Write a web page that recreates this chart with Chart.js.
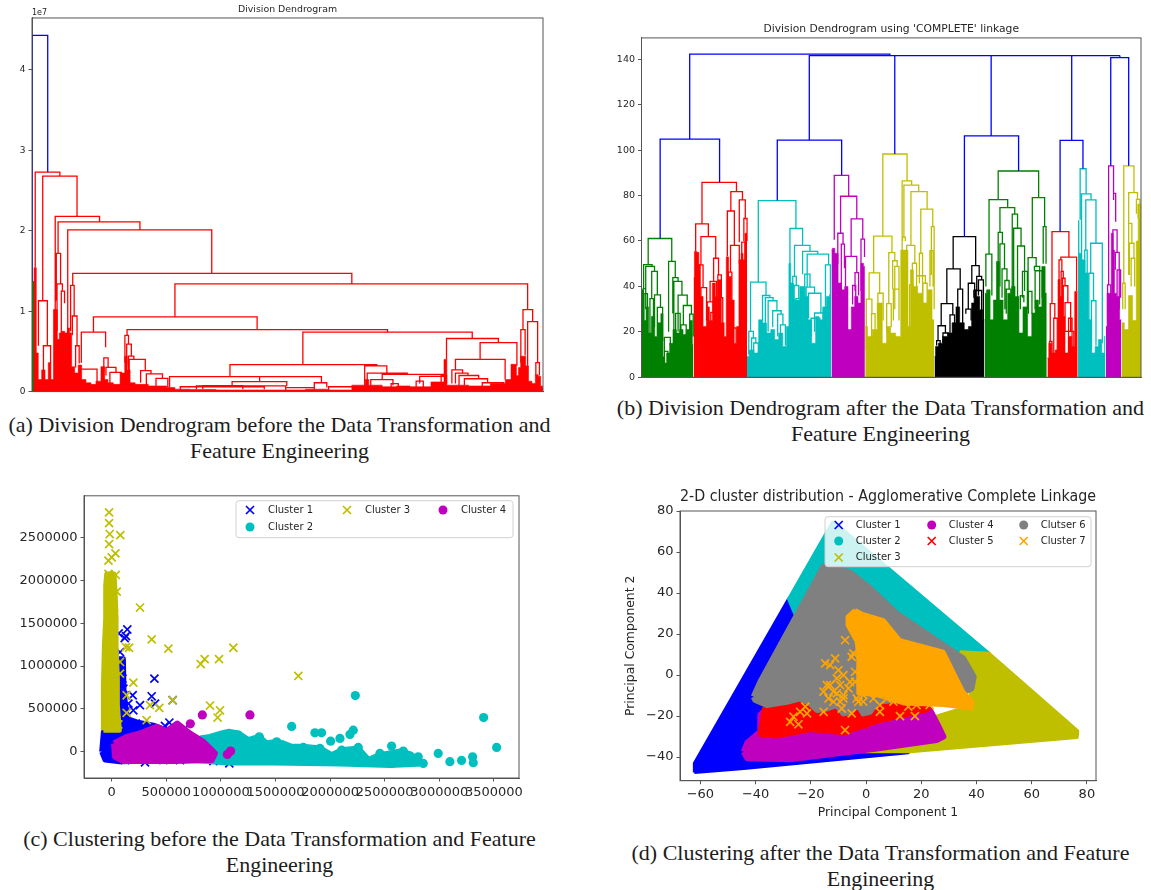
<!DOCTYPE html>
<html>
<head>
<meta charset="utf-8">
<title>Clustering figures</title>
<script src="https://cdn.jsdelivr.net/npm/chart.js@4/dist/chart.umd.min.js"></script>
<style>
  html, body { margin: 0; padding: 0; background: #fff; width: 1151px; height: 890px; overflow: hidden; }
  canvas { position: absolute; filter: blur(0.45px); }
  .cap { position: absolute; width: 575px; text-align: center; color: #1c1c1c;
         font-family: "Liberation Serif", serif; font-size: 22px; line-height: 26px; white-space: nowrap; }
</style>
</head>
<body>
<canvas id="dendroA" style="left:0;top:0"></canvas>
<canvas id="dendroB" style="left:606px;top:20px"></canvas>
<canvas id="scatterC" style="left:15px;top:485px"></canvas>
<canvas id="scatterD" style="left:622px;top:486px"></canvas>
<div class="cap" style="left:-8px;top:412px">(a) Division Dendrogram before the Data Transformation and<br>Feature Engineering</div>
<div class="cap" style="left:593px;top:395px">(b) Division Dendrogram after the Data Transformation and<br>Feature Engineering</div>
<div class="cap" style="left:-8px;top:826px">(c) Clustering before the Data Transformation and Feature<br>Engineering</div>
<div class="cap" style="left:593px;top:840px">(d) Clustering after the Data Transformation and Feature<br>Engineering</div>

<script>
// ─── DATA ─────────────────────────────────────────
// Dendrogram links are [xLeft, xRight, yLeft, yRight, top].
// Skylines are [x, y] tops of the dense leaf area under each cluster.

const aTicks = [0, 1, 2, 3, 4];
const aBlueLinks = [[90, 134, 1.37, 2.73, 4.43]];
const aGreenSkyline = [[90, 1.37], [95, 1.37], [96, 0.5]];
const aRedLinks = [
  [99, 168, 1.54, 2.68, 2.73], [120, 216, 1.13, 2.18, 2.68], [155, 279, 0.69, 2.11, 2.18],
  [163, 392, 1.72, 2.01, 2.11], [190, 593, 0.73, 1.47, 2.01], [204, 985, 1.32, 1.34, 1.47],
  [490, 1477, 0.93, 1.02, 1.34], [262, 720, 0.74, 0.77, 0.93], [228, 296, 0.36, 0.55, 0.74],
  [356, 1085, 0.70, 0.74, 0.77], [848, 1322, 0.335, 0.66, 0.74], [1250, 1395, 0.40, 0.61, 0.66],
  [1344, 1447, 0.40, 0.32, 0.61], [1275, 1414, 0.27, 0.15, 0.40], [644, 1055, 0.186, 0.32, 0.335],
  [1021, 1083, 0.05, 0.23, 0.32], [1028, 1140, 0.11, 0.215, 0.23], [1070, 1245, 0.15, 0.17, 0.215],
  [475, 900, 0.05, 0.11, 0.186], [650, 803, 0.05, 0.07, 0.124], [727, 727, 0.124, 0.124, 0.186],
  [1464, 1491, 0.77, 0.87, 1.02], [1477, 1505, 0.32, 0.36, 0.87], [1458, 1470, 0.36, 0.45, 0.77],
  [1500, 1510, 0.2, 0.2, 0.36], [350, 360, 0.36, 0.59, 0.70], [355, 368, 0.32, 0.44, 0.59],
  [360, 375, 0.2, 0.40, 0.44], [362, 407, 0.11, 0.26, 0.40], [394, 423, 0.11, 0.22, 0.26],
  [410, 455, 0.08, 0.165, 0.22], [437, 470, 0.05, 0.05, 0.165], [108, 133, 0.57, 0.57, 1.13],
  [122, 142, 0.25, 0.35, 0.57], [158, 170, 1.13, 1.34, 1.72], [160, 175, 0.75, 1.25, 1.34],
  [172, 181, 0.6, 1.10, 1.25], [198, 208, 0.75, 0.94, 1.32], [203, 216, 0.7, 0.57, 0.94],
  [212, 222, 0.3, 0.35, 0.57], [291, 303, 0.25, 0.3, 0.42], [297, 325, 0.2, 0.24, 0.30],
  [308, 340, 0.1, 0.1, 0.24], [222, 272, 0.1, 0.1, 0.28], [1265, 1295, 0.1, 0.23, 0.27],
  [1275, 1310, 0.1, 0.2, 0.23], [1285, 1340, 0.08, 0.16, 0.2], [1300, 1365, 0.08, 0.11, 0.16],
  [1350, 1410, 0.06, 0.08, 0.11], [1175, 1245, 0.1, 0.08, 0.19], [1165, 1185, 0.04, 0.05, 0.13],
  [1038, 1100, 0.06, 0.08, 0.15], [1095, 1115, 0.03, 0.04, 0.1], [550, 800, 0.03, 0.03, 0.07],
  [505, 740, 0.02, 0.03, 0.06], [568, 680, 0.03, 0.03, 0.075], [880, 915, 0.05, 0.05, 0.11],
  [800, 880, 0.02, 0.03, 0.05], [920, 1005, 0.02, 0.02, 0.06], [1235, 1250, 0.06, 0.1, 0.2],
];
const aRedSkyline = [
  [94, 0.52], [97.5, 1.54], [101, 1.54], [103, 0.48], [112, 0.15], [122, 0.27], [131, 0.15], [140, 0.36],
  [146, 0.15], [154, 1.02], [159, 1.02], [163, 0.65], [170, 0.73], [178, 0.75], [185, 0.73], [193, 0.79],
  [198, 0.73], [204, 0.31], [215, 0.23], [224, 0.33], [234, 0.15], [248, 0.11], [262, 0.09], [276, 0.13],
  [290, 0.31], [297, 0.15], [308, 0.11], [327, 0.09], [346, 0.23], [353, 0.44], [360, 0.27], [369, 0.11],
  [388, 0.09], [406, 0.09], [425, 0.07], [458, 0.07], [476, 0.05], [504, 0.03], [560, 0.025], [650, 0.02],
  [800, 0.02], [820, 0.02], [890, 0.03], [950, 0.02], [1020, 0.08], [1025, 0.15], [1040, 0.08], [1100, 0.06],
  [1120, 0.07], [1176, 0.06], [1237, 0.12], [1249, 0.40], [1253, 0.08], [1288, 0.08], [1335, 0.07], [1410, 0.1],
  [1419, 0.15], [1442, 0.34], [1449, 0.2], [1454, 0.3], [1461, 0.44], [1468, 0.44], [1475, 0.32], [1484, 0.13],
  [1494, 0.1], [1503, 0.21], [1510, 0.19], [1517, 0.07], [1520, 0.05],
];

const bTicks = [0, 20, 40, 60, 80, 100, 120, 140];
const bBlueLinks = [
  [255, 824, 104.8, 141.6, 142.3], [595, 1478, 104.4, 141.6, 141.6], [838, 838, 98.3, 98.3, 141.6],
  [1112, 1112, 106.3, 106.3, 141.6], [1341, 1341, 104.3, 104.3, 141.6], [1478, 1478, 141.6, 141.6, 140.9],
  [1452, 1503, 93.1, 93.1, 140.7], [171, 340, 61.1, 85.8, 104.8], [504, 687, 77.8, 88.9, 104.4],
  [1036, 1190, 61.9, 90.8, 106.3], [1308, 1373, 64.1, 91.8, 104.3],
];
const bGreenLinks = [
  [137, 204, 49.5, 51, 61.1], [124, 148, 39, 48.8, 49.6], [130, 155, 30, 46.6, 48.8], [147, 163, 34.6, 36.3, 46.6],
  [123, 130, 25, 36.8, 39], [125, 135, 22, 20, 36.8], [142, 152, 18, 14, 34.6], [155, 172, 22, 30.8, 36.3],
  [163, 178, 18, 16, 30.8], [195, 214, 20, 43.9, 51], [207, 222, 28.1, 42.2, 43.9], [210, 233, 20, 36.2, 42.2],
  [222, 248, 20, 31.6, 36.2], [237, 260, 23.1, 27.8, 31.6], [215, 228, 14, 18, 28.1], [255, 265, 16, 18, 27.8],
  [230, 245, 14, 16, 23.1], [183, 200, 11.4, 14, 17.6], [183, 193, 4, 8, 11.4],
  [1132, 1247, 78.2, 79.1, 90.8], [1106, 1159, 54.2, 74.7, 78.2], [1137, 1179, 63.8, 71.8, 74.7],
  [1172, 1187, 30, 65.6, 71.8], [1176, 1197, 35, 57.8, 65.6], [1187, 1207, 30, 38, 57.8], [1132, 1144, 40, 58.7, 63.8],
  [1137, 1150, 40, 47.7, 58.7], [1097, 1114, 40, 36, 54.2], [1143, 1157, 35, 42.6, 47.7], [1151, 1163, 30, 38.8, 42.6],
  [1155, 1168, 28, 30, 38.8], [1229, 1264, 52.7, 66.3, 79.1], [1217, 1240, 30, 48.8, 52.7], [1235, 1250, 46.9, 32, 48.8],
  [1237, 1257, 30, 35, 46.9], [1260, 1268, 50, 50, 66.3], [1201, 1215, 35, 30, 46.6], [1195, 1205, 30, 33, 35.9],
  [1218, 1228, 28, 28, 37.8],
];
const bRedLinks = [
  [290, 388, 67.5, 81.7, 85.8], [272, 308, 55.4, 61.9, 67.5], [287, 329, 49.5, 52.4, 61.9], [277, 293, 30, 39.5, 49.5],
  [323, 337, 42.2, 45.1, 52.4], [287, 303, 25, 25, 39.5], [313, 331, 33.2, 35.1, 42.2], [305, 322, 25, 28.6, 33.2],
  [315, 327, 20, 20, 28.6], [335, 345, 30, 35.1, 45.1], [340, 349, 20, 20, 35.1], [372, 405, 73.2, 78.1, 81.7],
  [362, 382, 53.2, 58.1, 73.2], [371, 396, 46.3, 50, 58.1], [396, 413, 59.5, 69.9, 78.1], [409, 418, 60, 60, 69.9],
  [403, 412, 50, 50, 59.5], [365, 375, 40, 21.7, 46.3], [375, 387, 15, 15, 21.7],
  [1285, 1333, 32.4, 52.9, 64.1], [1310, 1355, 51.7, 38, 52.9], [1305, 1313, 12, 46.6, 51.7], [1311, 1317, 12, 43.6, 46.6],
  [1315, 1322, 12, 40.3, 43.6], [1317, 1330, 12, 32.9, 40.3], [1322, 1338, 20.2, 20.2, 32.9], [1290, 1300, 10, 12, 26],
  [1280, 1293, 15.8, 26, 32.4], [1320, 1347, 10, 12, 20.2], [1332, 1342, 10, 10, 26], [1278, 1285, 8, 8, 15.8],
];
const bCyanLinks = [
  [450, 557, 41.9, 65.5, 77.8], [428, 472, 20.2, 36, 41.9], [462, 483, 25, 35.1, 36], [470, 492, 20, 33.7, 35.1],
  [478, 503, 20, 29.3, 33.7], [491, 515, 22, 27.8, 29.3], [505, 520, 18, 23.1, 27.8], [513, 527, 14, 14, 23.1],
  [423, 436, 10, 17.3, 20.2], [431, 443, 10, 15.1, 17.3], [437, 450, 10, 10, 15.1], [540, 576, 50.2, 58.1, 65.5],
  [553, 597, 44.4, 55.5, 58.1], [576, 619, 45.4, 54.2, 55.4], [589, 650, 39.7, 49.5, 54.2], [582, 597, 30, 39.7, 45.4],
  [586, 610, 28, 37, 39.7], [593, 628, 26, 28.3, 37], [641, 655, 28, 36, 49.5], [548, 558, 30, 40.4, 44.4],
  [552, 565, 30, 34.6, 40.4], [557, 570, 28, 25, 34.6], [600, 625, 18, 20, 26], [610, 635, 20, 22, 28.3],
  [1365, 1382, 69.3, 80.7, 91.8], [1369, 1396, 45, 78.1, 80.7], [1381, 1410, 56, 59, 78.1], [1395, 1428, 45.8, 15, 59],
  [1390, 1403, 25, 33.7, 45.8], [1397, 1410, 12, 14, 33.7], [1378, 1385, 40, 45, 56],
];
const bMagentaLinks = [
  [666, 707, 60.5, 79.7, 88.9], [684, 730, 63.4, 69.7, 79.7], [676, 691, 50, 58.6, 63.4], [714, 747, 53.2, 60.8, 69.7],
  [698, 730, 40, 46.1, 53.2], [725, 735, 38, 36, 46.1], [742, 752, 38, 53, 60.8], [718, 727, 32, 32, 40.4],
  [686, 695, 34, 48, 58.6],
  [1446, 1460, 40.7, 81, 93.1], [1460, 1466, 78, 68.5, 81], [1458, 1470, 45, 55, 64.9], [1465, 1476, 47.3, 30, 55],
  [1470, 1480, 35, 35, 47.3], [1443, 1452, 25, 30, 40.7],
];
const bYellowLinks = [
  [804, 873, 62.1, 86.5, 98.3], [778, 830, 46, 54.9, 62.1], [765, 795, 34.4, 37, 46], [757, 773, 12, 28, 34.4],
  [790, 805, 25, 25, 37], [772, 782, 14, 16, 28], [821, 838, 32.4, 51.3, 54.9], [832, 845, 38.8, 48.8, 51.3],
  [838, 850, 30, 30, 48.8], [834, 850, 25, 25, 38.8], [815, 828, 20, 22, 32.4], [859, 886, 55, 84.6, 86.5],
  [864, 906, 61.7, 81.7, 84.6], [884, 930, 58.1, 74, 81.7], [912, 946, 54.6, 66.3, 74], [860, 868, 60, 60, 61.7],
  [872, 895, 28, 50.2, 58.1], [888, 900, 30, 44.7, 50.2], [908, 917, 41.4, 30, 54.6], [900, 925, 30, 41.4, 44.7],
  [938, 947, 40, 40, 55.8], [942, 950, 45, 30, 66.3], [880, 890, 22, 30, 40.7], [918, 930, 30, 30, 41.4],
  [1489, 1518, 41.4, 81.3, 93.1], [1503, 1528, 59, 78.3, 81.3], [1503, 1512, 45, 59, 67.8], [1505, 1518, 45, 52.4, 59],
  [1525, 1535, 72, 76.1, 78.3], [1530, 1537, 70, 40, 76.1], [1510, 1520, 40, 40, 52.4], [1486, 1493, 30, 30, 41.4],
];
const bBlackLinks = [
  [1004, 1068, 47.7, 49.2, 61.9], [986, 1024, 32.4, 38.8, 47.7], [970, 1003, 22.7, 27.5, 32.4], [1017, 1031, 26, 22, 38.8],
  [961, 982, 16.1, 19.5, 22.7], [995, 1008, 17, 17, 27.5], [975, 990, 15, 14, 19.5], [957, 967, 14, 12, 16.1],
  [1057, 1078, 41.4, 44.4, 49.2], [1047, 1065, 30, 38.2, 41.4], [1071, 1085, 38, 42.9, 44.4], [1076, 1090, 36, 25, 42.9],
  [1040, 1055, 28, 25, 30], [1063, 1085, 35, 25, 38.2],
];
const bGreenSkyline1 = [[119, 38.5], [127, 25], [135, 31], [141, 19.5], [151, 26.8], [160, 18], [170, 24], [176, 28], [182, 9], [186, 6.3], [193, 10.7], [203, 15], [212, 21], [222, 19.5], [231, 21], [241, 18.8], [250, 21], [260, 25], [265, 14.4]];
const bRedSkyline1 = [[266, 43.7], [271, 55.4], [279, 55], [283, 49.5], [288, 35.6], [298, 22.4], [307, 31], [315, 25], [324, 41.5], [331, 35.6], [340, 42.9], [350, 24], [356, 18], [362, 53], [369, 44.4], [378, 34], [385, 15], [392, 22.4], [398, 51.7], [404, 54.6], [409, 51.7], [415, 63.4], [418, 63.4]];
const bCyanSkyline1 = [[418, 9.2], [430, 12], [445, 10.7], [457, 25.3], [468, 23.9], [480, 19.5], [491, 21], [502, 16.6], [514, 19.5], [525, 13.6], [535, 22.4], [539, 50.2], [546, 41.5], [554, 34], [563, 34], [573, 40], [587, 35.6], [596, 25.3], [608, 15], [618, 26.8], [627, 25.3], [639, 31], [648, 35.6], [657, 36.3]];
const bMagentaSkyline1 = [[658, 56], [663, 56.8], [672, 54.6], [682, 41.5], [691, 38.5], [700, 40], [710, 21], [719, 31], [729, 35.6], [738, 32.7], [745, 50.2], [753, 48.8]];
const bYellowSkyline1 = [[754, 22.4], [767, 18], [781, 21], [795, 32.7], [810, 15], [819, 22.4], [833, 19.5], [848, 18], [862, 56], [872, 56], [879, 22.4], [886, 47.3], [896, 40], [910, 37], [924, 32.7], [938, 38.5], [950, 25.3]];
const bBlackSkyline = [[951, 9.2], [957, 13.6], [967, 15], [981, 18], [995, 19.5], [1007, 24], [1017, 31], [1028, 24], [1043, 21], [1052, 22.4], [1061, 32.7], [1066, 38.5], [1076, 35.6], [1083, 29.7], [1093, 25.3]];
const bGreenSkyline2 = [[1094, 37], [1104, 38.5], [1114, 25.3], [1123, 34], [1131, 51], [1140, 34], [1152, 25.3], [1166, 37], [1175, 40], [1185, 35.6], [1197, 19.5], [1208, 31], [1223, 18], [1232, 28.3], [1242, 34], [1251, 31], [1261, 48.8], [1270, 37]];
const bRedSkyline2 = [[1272, 8.5], [1280, 15], [1289, 10.7], [1299, 12], [1305, 43], [1311, 35.6], [1317, 26.8], [1327, 10.7], [1336, 18], [1346, 13.6], [1353, 37.8], [1358, 37.8]];
const bCyanSkyline2 = [[1359, 69], [1365, 54.6], [1374, 51.7], [1384, 45.9], [1393, 25.3], [1403, 10.7], [1412, 13.6], [1422, 16.6], [1431, 10.7], [1437, 18]];
const bMagentaSkyline2 = [[1438, 22.4], [1445, 37], [1450, 37], [1457, 63.4], [1461, 56], [1464, 37], [1472, 35.6], [1482, 25.3]];
const bYellowSkyline2 = [[1483, 24], [1498, 21], [1507, 36], [1521, 25], [1528, 60], [1532, 76], [1537, 70], [1538, 43]];

const cXTicks = [0, 500000, 1000000, 1500000, 2000000, 2500000, 3000000, 3500000];
const cYTicks = [0, 500000, 1000000, 1500000, 2000000, 2500000];
const cLabels = ['Cluster 1', 'Cluster 2', 'Cluster 3', 'Cluster 4'];
// values in thousands; the dense middle of each cluster is an outline, the strays are points
const cBlueOutline = [[-92, 0], [-76, 233], [52, 233], [52, 775], [70, 1085], [107, 1085], [113, 698], [143, 388], [229, 349], [381, 310], [503, 252], [687, 233], [809, 116], [870, -97], [76, -116], [-61, -97]];
const cCyanOutline = [[809, 155], [900, 174], [1007, 213], [1068, 233], [1160, 213], [1251, 136], [1349, 174], [1419, 97], [1511, 116], [1572, 97], [1648, 58], [1755, 58], [1907, 39], [2014, -39], [2106, 19], [2258, 39], [2350, -97], [2456, -39], [2670, 8], [2762, -58], [2853, -136], [2548, -155], [2090, -136], [1480, -124], [1053, -124], [778, -97]];
const cYellowOutline = [[-76, 252], [-76, 775], [-67, 1240], [-55, 1550], [-55, 1938], [-46, 2074], [21, 2074], [31, 1868], [40, 1550], [40, 1240], [52, 853], [52, 543], [70, 252]];
const cMagentaOutline = [[21, 97], [137, 174], [259, 213], [412, 291], [503, 240], [601, 329], [717, 213], [839, 116], [946, -19], [915, -97], [565, -109], [107, -109], [31, -58]];
const cBluePoints = [[143, 1426], [64, 1380], [131, 1349], [119, 1326], [76, 1163], [76, 988], [391, 853], [366, 647], [192, 659], [558, 601], [259, 543], [198, 484], [397, 562], [153, 562], [107, 736], [98, 853], [122, 465], [528, 341], [488, 302], [220, 329], [305, -124], [1077, -136], [931, -109], [671, 271], [122, -97], [626, -97], [473, -97]];
const cCyanPoints = [[2231, 655], [3406, 399], [3525, 50], [1648, 295], [1861, 221], [1922, 221], [2005, 124], [2090, 155], [2182, 202], [2212, 252], [2258, 50], [2456, -19], [2563, 66], [2670, 8], [2990, -19], [3097, -116], [3204, -101], [3305, -58], [3311, -128], [2853, -136], [2807, -58], [2731, -47], [2609, -97], [1352, 174], [1160, 194], [1068, 202], [1511, 116], [1755, 50], [1907, 39], [2106, 19], [2350, -116], [2563, -136]];
const cYellowPoints = [[-24, 2791], [-24, 2667], [-18, 2539], [79, 2527], [-24, 2422], [34, 2314], [-30, 2229], [0, 2267], [-30, 2074], [37, 2062], [46, 1868], [259, 1682], [21, 1609], [366, 1310], [519, 1202], [1114, 1213], [851, 1081], [815, 1023], [983, 1081], [1709, 884], [131, 1221], [159, 1213], [198, 806], [137, 659], [558, 601], [900, 539], [992, 484], [970, 399], [436, 512], [351, 543], [320, 368], [137, 453], [61, 318], [76, 911], [76, 1047]];
const cMagentaPoints = [[1266, 430], [830, 430], [720, 326], [1089, 8], [1059, -31]];

const dXTicks = [-60, -40, -20, 0, 20, 40, 60, 80];
const dYTicks = [-40, -20, 0, 20, 40, 60, 80];
const dLabels = ['Cluster 1', 'Cluster 2', 'Cluster 3', 'Cluster 4', 'Cluster 5', 'Clutser 6', 'Cluster 7'];
const dBlueOutline = [[-62.2, -47.5], [-62.2, -43], [-28.1, 37.1], [-25.4, 28.5], [-36, -11.4], [-36, -30], [-40, -38], [15.9, -36.6], [15.3, -37.9], [-44.3, -45.5]];
const dCyanOutline = [[-12, 75], [-28.1, 37.1], [-25.4, 28.5], [0, 20], [34, 11.4], [44.6, 10.6]];
const dYellowOutline = [[34, 11.4], [44.6, 10.6], [76.7, -27.2], [76.5, -30.4], [15.9, -37.4], [-8.2, -37.4], [23, -21], [38.8, -14.6]];
const dMagentaOutline = [[-44.3, -37.4], [-43, -33], [-38.3, -27.6], [-38.3, -19.5], [-34.7, -14.6], [-29.9, -20], [-20, -26], [3.9, -22.8], [23, -16.6], [26, -24.4], [28, -30], [25.5, -31.7], [3.9, -35.8], [-27.5, -41], [-43, -40.6]];
const dRedOutline = [[-38.6, -29.3], [-37, -16.3], [-29.9, -13.8], [-15.4, -11.4], [15.9, -13], [21.9, -13.8], [22.5, -17], [3.9, -22.8], [-8.2, -28.4], [-20.2, -26.8], [-32.3, -30]];
const dGrayOutline = [[-40.7, -10.6], [-38.3, -3.3], [-32.3, 11.4], [-25, 29.3], [-15.4, 52.8], [-5.8, 50], [1.4, 42.3], [11, 30], [28, 14.6], [35.2, 8.1], [39, -0.8], [38.2, -6.5], [34, -9], [3.9, -13], [1.4, -17.9], [-1, -18.7], [-2.8, -14.6], [-5.8, -17.9], [-8.2, -18.7], [-10.6, -14.6], [-14.2, -16.3], [-17.8, -17], [-20.2, -13.8], [-23.9, -11.4], [-28.7, -13], [-32.3, -13.8], [-35.9, -14.6], [-40.1, -12.2]];
const dOrangeOutline = [[-4, 31.7], [-1.6, 30], [6.3, 26.8], [12.3, 17], [28, 11.4], [32.8, -1.6], [35.2, -8.1], [38.6, -13], [38.2, -16.3], [28, -14.6], [13.5, -13.8], [3.9, -9.8], [-2.8, -8.9], [-2.8, 9.8], [-3.4, 16.3], [-6.7, 24.4], [-6.7, 28.4]];
const dRedPoints = [[-17.2, -3.3], [-8.2, -27.3], [-1, -24.4], [18.9, -13.8]];
const dGrayPoints = [[-4.6, -13], [0.2, -15.4], [-5.8, -16.3], [-17.8, -14.6]];
const dOrangePoints = [[-7.6, 17], [-5.2, 8.9], [-4.6, 10.6], [-4, 1.6], [-14.8, 5.7], [-11.2, 8.1], [-13, 4.9], [-10, 2.4], [-10.6, -1.6], [-8.2, 0], [-15.4, -8.1], [-13.6, -11.4], [-15.4, -17.9], [-8.8, -16.3], [-5.2, -18.7], [-27.5, -22.8], [-26.3, -20.3], [-24.5, -24], [-23.9, -17.9], [-21.4, -18.7], [-22, -15.4], [-7.6, -26.8], [5, -17.9], [12.3, -20], [15.3, -15.4], [17.7, -20], [18.3, -14.6], [23, -14.6], [-3.4, -11.4], [-8.2, -9.8], [-1, -9.8], [-10.6, -8.9], [6.9, -8.1], [2, -7.3], [-14.2, -4.9], [-11.8, -8.1], [-9.4, -4.9], [-6.4, -6.5], [-4, -3.3], [-2.8, -13], [-1, -13], [2.7, -11.4], [5, -14.6], [7.5, -11.4], [9.9, -13], [12.3, -11.4], [-5.8, -3.3], [-8.2, -11.4], [-11.8, -13], [-13, -4.9], [-9.4, -13], [1.4, -8.1]];

// ─── COLOURS ──────────────────────────────────────

const BLUE = '#0000ff', RED = '#ff0000', GREEN = '#008000', CYAN = '#00bfbf',
      MAGENTA = '#bf00bf', YELLOW = '#bfbf00', BLACK = '#000000', GRAY = '#808080', ORANGE = '#ffa500';
const INK = '#262626';
const AXIS = '#555555';
const FONT = "'DejaVu Sans', sans-serif";

Chart.defaults.font.family = FONT;
Chart.defaults.color = INK;
Chart.defaults.animation = false;

// ─── DATASET HELPERS ──────────────────────────────

const toXY = pairs => pairs.map(([x, y]) => ({ x, y }));

function linkSet(links, color) {
  const pts = links.flatMap(([xl, xr, yl, yr, top]) => [
    { x: xl, y: yl }, { x: xl, y: top }, { x: xr, y: top }, { x: xr, y: yr }, { x: xr, y: null }
  ]);
  return { data: pts, showLine: true, spanGaps: false, borderColor: color, borderWidth: 1.3, pointRadius: 0 };
}

function skylineSet(pairs, color) {
  return {
    data: toXY(pairs), showLine: true, stepped: 'middle', fill: 'origin',
    backgroundColor: color, borderColor: color, borderWidth: 0.6, pointRadius: 0
  };
}

function blobSet(pairs, color, edge) {
  return {
    data: toXY(pairs.concat([pairs[0]])), showLine: true, fill: 'shape',
    backgroundColor: color, borderColor: color, borderWidth: edge, borderJoinStyle: 'round', pointRadius: 0
  };
}

function markSet(pairs, color, style, size) {
  return {
    data: toXY(pairs), pointStyle: style, pointRadius: size,
    backgroundColor: color, borderColor: color, pointBorderWidth: style === 'circle' ? 0 : 1.7
  };
}

// ─── PLUGINS ──────────────────────────────────────

// matplotlib style box around the plot, plus the "1e7" offset label
const plotFrame = {
  id: 'plotFrame',
  afterDatasetsDraw(chart, args, opts) {
    const { ctx, chartArea: a } = chart;
    ctx.save();
    ctx.strokeStyle = AXIS;
    ctx.lineWidth = 1;
    ctx.strokeRect(a.left, a.top, a.right - a.left, a.bottom - a.top);
    if (opts.corner) {
      ctx.fillStyle = INK;
      ctx.font = '8px ' + FONT;
      ctx.textBaseline = 'bottom';
      ctx.fillText(opts.corner, a.left, a.top - 1);
    }
    ctx.restore();
  }
};

// legend inside the plot, filled column by column
const gridLegend = {
  id: 'gridLegend',
  afterDraw(chart, args, opts) {
    if (!opts.items) return;
    const ctx = chart.ctx;
    const [bx, by, bw, bh] = opts.box;
    ctx.save();
    ctx.beginPath();
    ctx.roundRect(bx, by, bw, bh, 3);
    ctx.fillStyle = 'rgba(255,255,255,0.8)';
    ctx.fill();
    ctx.strokeStyle = '#d0d0d0';
    ctx.lineWidth = 1;
    ctx.stroke();
    ctx.font = '10px ' + FONT;
    ctx.textBaseline = 'middle';
    opts.items.forEach(it => {
      ctx.fillStyle = it.color;
      ctx.strokeStyle = it.color;
      if (it.cross) {
        ctx.lineWidth = 1.7;
        ctx.beginPath();
        ctx.moveTo(it.x - 4, it.y - 4); ctx.lineTo(it.x + 4, it.y + 4);
        ctx.moveTo(it.x + 4, it.y - 4); ctx.lineTo(it.x - 4, it.y + 4);
        ctx.stroke();
      } else {
        ctx.beginPath();
        ctx.arc(it.x, it.y, 4.5, 0, Math.PI * 2);
        ctx.fill();
      }
      ctx.fillStyle = INK;
      ctx.fillText(it.label, it.x + opts.gap, it.y);
    });
    ctx.restore();
  }
};

// ─── AXES ─────────────────────────────────────────

function axis(min, max, size, tickValues, tickFont, extra) {
  return Object.assign({
    type: 'linear', min, max,
    grid: { drawOnChartArea: false, drawTicks: !!tickValues, tickLength: 3.5, color: AXIS },
    border: { color: AXIS },
    afterFit: s => { if (s.isHorizontal()) s.height = size; else s.width = size; },
    afterBuildTicks: s => { s.ticks = (tickValues || []).map(value => ({ value })); },
    ticks: {
      display: !!tickValues, autoSkip: false, maxRotation: 0, minRotation: 0, padding: 3,
      font: { size: tickFont }, color: INK,
      callback: v => String(v).replace('-', '\u2212')
    }
  }, extra || {});
}

function titleOpts(text, size, top, bottom) {
  return { display: true, fullSize: false, text, font: { size, weight: 'normal' }, color: INK, padding: { top, bottom } };
}

function makeChart(id, width, height, datasets, scales, plugins, padding) {
  const canvas = document.getElementById(id);
  canvas.width = width;
  canvas.height = height;
  canvas.style.width = width + 'px';
  canvas.style.height = height + 'px';
  return new Chart(canvas, {
    type: 'scatter',
    // Chart.js paints the first dataset last, the lists below go bottom to top
    data: { datasets: datasets.slice().reverse() },
    options: {
      responsive: false,
      maintainAspectRatio: false,
      devicePixelRatio: 1,
      layout: { autoPadding: false, padding },
      scales,
      plugins: Object.assign({ legend: { display: false }, tooltip: { enabled: false } }, plugins)
    },
    plugins: [plotFrame, gridLegend]
  });
}

// ─── PANEL (a) ────────────────────────────────────

makeChart('dendroA', 555, 400,
  [
    skylineSet(aGreenSkyline, GREEN),
    skylineSet(aRedSkyline, RED),
    linkSet(aRedLinks, RED),
    linkSet(aBlueLinks, BLUE)
  ],
  { x: axis(90, 1520, 8, null, 9), y: axis(0, 4.646, 32, aTicks, 9) },
  {
    title: titleOpts('Division Dendrogram', 9.4, 4, 2.7),
    plotFrame: { corner: '1e7' }
  },
  { right: 12 }
);

// ─── PANEL (b) ────────────────────────────────────

makeChart('dendroB', 545, 366,
  [
    skylineSet(bGreenSkyline1, GREEN), skylineSet(bRedSkyline1, RED), skylineSet(bCyanSkyline1, CYAN),
    skylineSet(bMagentaSkyline1, MAGENTA), skylineSet(bYellowSkyline1, YELLOW), skylineSet(bBlackSkyline, BLACK),
    skylineSet(bGreenSkyline2, GREEN), skylineSet(bRedSkyline2, RED), skylineSet(bCyanSkyline2, CYAN),
    skylineSet(bMagentaSkyline2, MAGENTA), skylineSet(bYellowSkyline2, YELLOW),
    linkSet(bGreenLinks, GREEN), linkSet(bRedLinks, RED), linkSet(bCyanLinks, CYAN),
    linkSet(bMagentaLinks, MAGENTA), linkSet(bYellowLinks, YELLOW), linkSet(bBlackLinks, BLACK),
    linkSet(bBlueLinks, BLUE)
  ],
  { x: axis(118, 1538, 8, null, 9.5), y: axis(0, 149.4, 35.5, bTicks, 9.5) },
  {
    title: titleOpts("Division Dendrogram using 'COMPLETE' linkage", 10.75, 2.5, 2.5)
  },
  { right: 10 }
);

// ─── PANEL (c) ────────────────────────────────────

const thousands = pairs => pairs.map(([x, y]) => [x * 1000, y * 1000]);

makeChart('scatterC', 515, 315,
  [
    blobSet(thousands(cBlueOutline), BLUE, 5),
    markSet(thousands(cBluePoints), BLUE, 'crossRot', 5.7),
    blobSet(thousands(cCyanOutline), CYAN, 6),
    markSet(thousands(cCyanPoints), CYAN, 'circle', 4.6),
    blobSet(thousands(cYellowOutline), YELLOW, 5),
    markSet(thousands(cYellowPoints), YELLOW, 'crossRot', 5.7),
    blobSet(thousands(cMagentaOutline), MAGENTA, 6),
    markSet(thousands(cMagentaPoints), MAGENTA, 'circle', 4.6)
  ],
  { x: axis(-253700, 3730000, 22, cXTicks, 13), y: axis(-306000, 2985000, 69, cYTicks, 13) },
  {
    gridLegend: {
      box: [221, 15.7, 277, 37], gap: 18,
      items: [
        { label: cLabels[0], color: BLUE, cross: true, x: 235, y: 25 },
        { label: cLabels[1], color: CYAN, x: 235, y: 42 },
        { label: cLabels[2], color: YELLOW, cross: true, x: 332, y: 25 },
        { label: cLabels[3], color: MAGENTA, x: 428, y: 25 }
      ]
    }
  },
  { top: 10, right: 11 }
);

// ─── PANEL (d) ────────────────────────────────────

const axisTitle = text => ({ display: true, text, font: { size: 12.4 }, color: INK, padding: { top: 1, bottom: 2 } });

makeChart('scatterD', 529, 336,
  [
    blobSet(dBlueOutline, BLUE, 3),
    blobSet(dCyanOutline, CYAN, 3),
    blobSet(dYellowOutline, YELLOW, 3),
    blobSet(dMagentaOutline, MAGENTA, 6),
    blobSet(dRedOutline, RED, 4),
    markSet(dRedPoints, RED, 'crossRot', 5.7),
    blobSet(dGrayOutline, GRAY, 6),
    markSet(dGrayPoints, GRAY, 'circle', 4.6),
    blobSet(dOrangeOutline, ORANGE, 4),
    markSet(dOrangePoints, ORANGE, 'crossRot', 5.7)
  ],
  {
    x: axis(-67.4, 83.3, 41.3, dXTicks, 13, { title: axisTitle('Principal Component 1') }),
    y: axis(-51.5, 80, 58, dYTicks, 13, { title: axisTitle('Principal Component 2') })
  },
  {
    title: titleOpts('2-D cluster distribution - Agglomerative Complete Linkage', 15, 2.5, 4.5),
    gridLegend: {
      box: [203, 30.7, 266, 50], gap: 17,
      items: [
        { label: dLabels[0], color: BLUE, cross: true, x: 216.7, y: 39 },
        { label: dLabels[1], color: CYAN, x: 216.7, y: 55 },
        { label: dLabels[2], color: YELLOW, cross: true, x: 216.7, y: 71.5 },
        { label: dLabels[3], color: MAGENTA, x: 309.7, y: 39 },
        { label: dLabels[4], color: RED, cross: true, x: 309.7, y: 55 },
        { label: dLabels[5], color: GRAY, x: 401.7, y: 39 },
        { label: dLabels[6], color: ORANGE, cross: true, x: 401.7, y: 55 }
      ]
    }
  },
  { right: 55 }
);
</script>
</body>
</html>
